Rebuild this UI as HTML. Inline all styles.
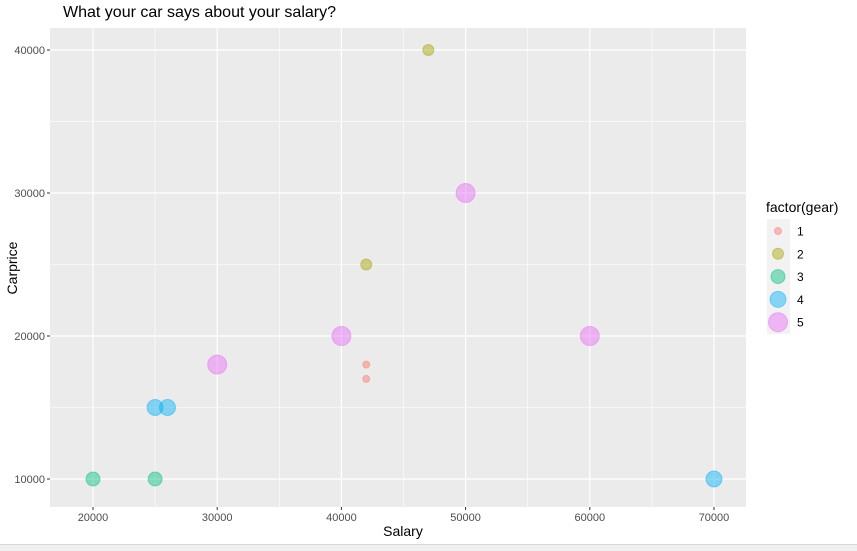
<!DOCTYPE html>
<html><head><meta charset="utf-8"><style>
body{margin:0;background:#fff;width:857px;height:551px;overflow:hidden;font-family:"Liberation Sans",sans-serif}
</style></head><body>
<svg id="c" width="857" height="551" style="position:absolute;left:0;top:0">
<rect x="0" y="544" width="857" height="7" fill="#f0f0f0"/>
<line x1="0" y1="544.5" x2="857" y2="544.5" stroke="#d9d9d9"/>
<text x="63" y="17" font-size="16" fill="#000">What your car says about your salary?</text>
<rect x="50" y="28" width="696" height="479" fill="#ebebeb"/>
<g id="grid"></g><g id="pts"></g><g id="ticks"></g>
<text x="403" y="536" font-size="14" text-anchor="middle" fill="#000">Salary</text>
<text transform="translate(17,268) rotate(-90)" font-size="14" text-anchor="middle" fill="#000">Carprice</text>
<text x="766" y="212" font-size="14" fill="#000">factor(gear)</text>
<rect x="767" y="219" width="23" height="115" fill="#f2f2f2"/>
<g id="leg"></g>
</svg>
<script>
const gears=[1,1,2,2,3,3,4,4,4,5,5,5,5];
const salary=[42000,42000,47000,42000,20000,25000,25000,26000,70000,30000,40000,50000,60000];
const carprice=[18000,17000,40000,25000,10000,10000,15000,15000,10000,18000,20000,30000,20000];
const xTicks=[20000,30000,40000,50000,60000,70000];
const yTicks=[10000,20000,30000,40000];
const colors=["#F8766D","#A3A500","#00BF7D","#00B0F6","#E76BF3"];
const radii=[3.5,5.5,7,8,9.5];
const NS="http://www.w3.org/2000/svg";
const X=v=>50+(v-16538)/(72577-16538)*696;
const Y=v=>507-(v-8042)/(41540-8042)*479;
function mk(tag,attrs,parent){const e=document.createElementNS(NS,tag);for(const k in attrs)e.setAttribute(k,attrs[k]);document.getElementById(parent).appendChild(e);return e;}
xTicks.forEach((t,i)=>{
 if(i<xTicks.length-1){const m=(t+xTicks[i+1])/2;const g=mk('line',{x1:X(m),x2:X(m),y1:28,y2:507,stroke:'#fff','stroke-width':0.6},'grid');
 
 }
 const l=mk('line',{x1:X(t),x2:X(t),y1:28,y2:507,stroke:'#fff','stroke-width':1.2},'grid');
 
 
 const tk=mk('line',{x1:X(t),x2:X(t),y1:507,y2:510,stroke:'#333'},'ticks');
 
 
 const tx=mk('text',{x:X(t),y:521,'font-size':11,'text-anchor':'middle',fill:'#4d4d4d'},'ticks');tx.textContent=t;
 
 
});
yTicks.forEach((t,i)=>{
 if(i<yTicks.length-1){const m=(t+yTicks[i+1])/2;const g=mk('line',{x1:50,x2:746,y1:Y(m),y2:Y(m),stroke:'#fff','stroke-width':0.6},'grid');
 
 }
 const l=mk('line',{x1:50,x2:746,y1:Y(t),y2:Y(t),stroke:'#fff','stroke-width':1.2},'grid');
 
 
 const tk=mk('line',{x1:47,x2:50,y1:Y(t),y2:Y(t),stroke:'#333'},'ticks');
 
 
 const tx=mk('text',{x:45,y:Y(t)+4,'font-size':11,'text-anchor':'end',fill:'#4d4d4d'},'ticks');tx.textContent=t;
 
 
});
gears.forEach((g,i)=>{
 const c=mk('circle',{cx:X(salary[i]),cy:Y(carprice[i]),r:radii[g-1],fill:colors[g-1],'fill-opacity':0.45,stroke:colors[g-1],'stroke-opacity':0.45},'pts');
 
 
});
[1,2,3,4,5].forEach((g,i)=>{
 const y=231+i*22.8;
 const c=mk('circle',{cx:778,cy:y,r:radii[i],fill:colors[i],'fill-opacity':0.45,stroke:colors[i],'stroke-opacity':0.45},'leg');
 
 
 const t=mk('text',{x:797,y:y+4.5,'font-size':12,fill:'#000'},'leg');t.textContent=g;
 
 
});
</script>
</body></html>
